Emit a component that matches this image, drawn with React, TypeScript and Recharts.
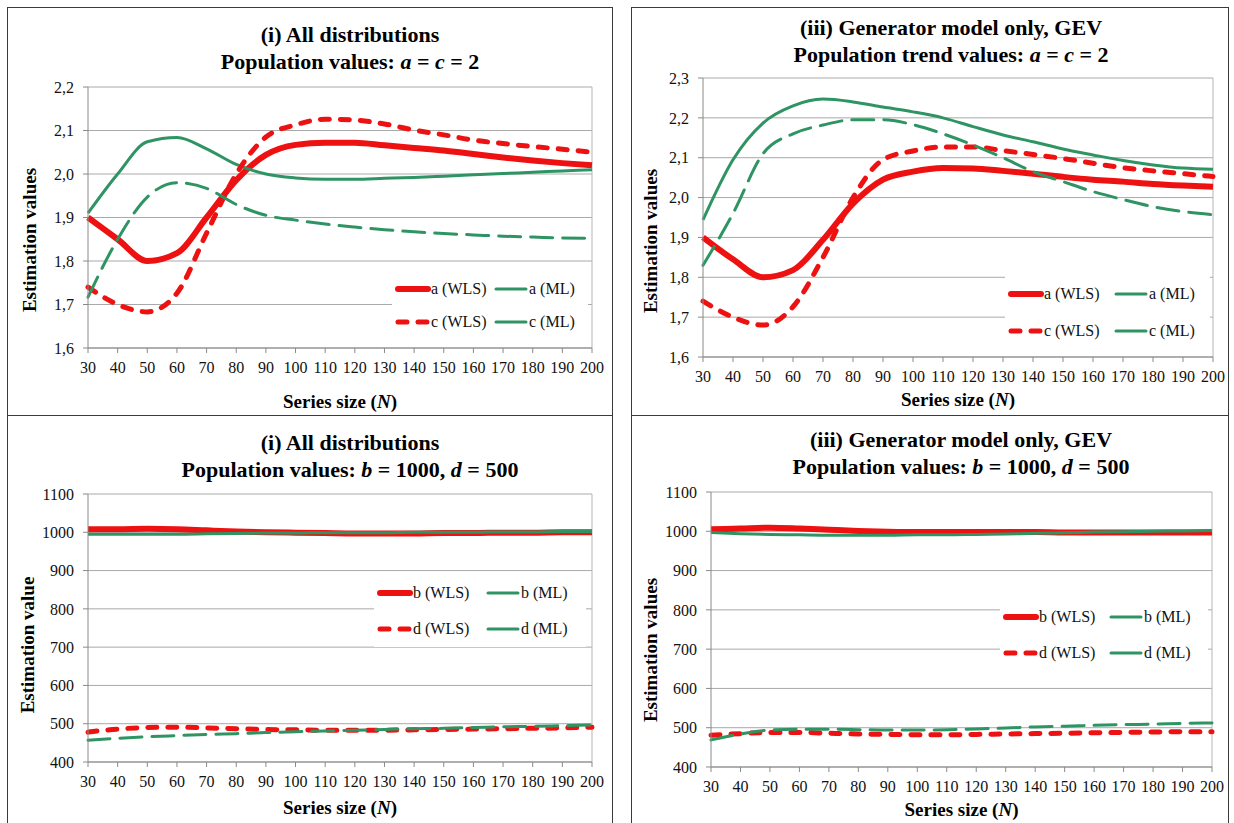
import React from 'react';
import { LineChart, Line, XAxis, YAxis, CartesianGrid, Legend, ReferenceLine } from 'recharts';

// ---------- data ----------
const seriesSize = [30, 40, 50, 60, 70, 80, 90, 100, 110, 120, 130, 140, 150, 160, 170, 180, 190, 200];

// Panel (i) top: a, c
const p1_aWLS = [1.9, 1.85, 1.8, 1.818, 1.9, 1.986, 2.044, 2.067, 2.072, 2.072, 2.066, 2.06, 2.054, 2.046, 2.038, 2.031, 2.025, 2.02];
const p1_aML = [1.91, 2.0, 2.074, 2.084, 2.058, 2.022, 2.0, 1.991, 1.988, 1.988, 1.99, 1.992, 1.995, 1.998, 2.001, 2.004, 2.007, 2.01];
const p1_cWLS = [1.74, 1.7, 1.683, 1.726, 1.864, 2.0, 2.085, 2.113, 2.126, 2.124, 2.115, 2.101, 2.09, 2.078, 2.07, 2.063, 2.057, 2.05];
const p1_cML = [1.717, 1.85, 1.947, 1.98, 1.967, 1.93, 1.905, 1.894, 1.885, 1.878, 1.872, 1.867, 1.863, 1.86, 1.857, 1.855, 1.853, 1.852];

// Panel (iii) top: a, c
const p2_aWLS = [1.9, 1.845, 1.8, 1.818, 1.894, 1.985, 2.045, 2.065, 2.074, 2.073, 2.067, 2.06, 2.052, 2.045, 2.04, 2.034, 2.03, 2.027];
const p2_aML = [1.944, 2.095, 2.187, 2.23, 2.247, 2.24, 2.227, 2.215, 2.2, 2.178, 2.157, 2.14, 2.122, 2.107, 2.093, 2.082, 2.074, 2.071];
const p2_cWLS = [1.74, 1.7, 1.68, 1.726, 1.85, 2.0, 2.095, 2.117, 2.127, 2.127, 2.118, 2.108, 2.098, 2.086, 2.075, 2.067, 2.06, 2.053];
const p2_cML = [1.83, 1.96, 2.11, 2.16, 2.182, 2.195, 2.195, 2.183, 2.16, 2.132, 2.1, 2.065, 2.04, 2.015, 1.995, 1.977, 1.965, 1.957];

// Panel (i) bottom: b, d
const p3_bWLS = [1008, 1008, 1009, 1008, 1005, 1002, 1000, 999, 998, 997, 997, 997, 998, 998, 999, 999, 1000, 1000];
const p3_bML = [995, 995, 995, 995, 996, 997, 998, 998, 999, 999, 999, 1000, 1000, 1000, 1001, 1001, 1002, 1002];
const p3_dWLS = [478, 486, 490, 491, 489, 487, 485, 484, 483, 483, 483, 484, 485, 486, 487, 488, 489, 491];
const p3_dML = [457, 462, 466, 469, 472, 474, 477, 479, 481, 483, 485, 487, 488, 490, 492, 493, 495, 497];

// Panel (iii) bottom: b, d
const p4_bWLS = [1005, 1007, 1009, 1007, 1004, 1001, 999, 998, 998, 998, 998, 998, 997, 997, 997, 997, 997, 997];
const p4_bML = [997, 994, 992, 991, 990, 990, 990, 991, 991, 992, 993, 995, 996, 998, 999, 1000, 1001, 1002];
const p4_dWLS = [481, 485, 488, 488, 486, 484, 483, 482, 482, 483, 484, 485, 486, 487, 488, 489, 490, 490];
const p4_dML = [469, 484, 494, 496, 496, 495, 494, 494, 495, 497, 499, 502, 504, 506, 508, 509, 511, 512];

const ticksAC1 = [1.6, 1.7, 1.8, 1.9, 2.0, 2.1, 2.2];
const ticksAC2 = [1.6, 1.7, 1.8, 1.9, 2.0, 2.1, 2.2, 2.3];
const ticksBD = [400, 500, 600, 700, 800, 900, 1000, 1100];

// ---------- styles ----------
const RED = '#ee1111';
const GREEN = '#2f9463';
const FONT = "'Times New Roman', Times, 'Liberation Serif', Tinos, 'Noto Serif', 'DejaVu Serif', FreeSerif, serif";

type SeriesStyle = { key: string; name: string; color: string; width: number; dash?: string };

const makeSeries = (p: string): SeriesStyle[] => [
  { key: 's1', name: `${p[0]} (WLS)`, color: RED, width: 6 },
  { key: 's2', name: `${p[0]} (ML)`, color: GREEN, width: 3 },
  { key: 's3', name: `${p[1]} (WLS)`, color: RED, width: 5, dash: '9 11' },
  { key: 's4', name: `${p[1]} (ML)`, color: GREEN, width: 3, dash: '22 10' },
];

const buildRows = (s1: number[], s2: number[], s3: number[], s4: number[]) =>
  seriesSize.map((n, i) => ({ n, s1: s1[i], s2: s2[i], s3: s3[i], s4: s4[i] }));

type PanelProps = {
  box: [number, number, number, number];
  plot: [number, number, number, number];
  rows: any[];
  series: SeriesStyle[];
  yDomain: [number, number];
  yTicks: number[];
  comma: boolean;
  title1: React.ReactNode;
  title2: React.ReactNode;
  titleY: [number, number];
  titleX: number;
  yLabel: string;
  yLabelPos: [number, number];
  xLabelY: number;
  legend: { left: number; top: number; width: number; rowH: number; item1W: number };
};

const Y_W = 50;
const X_H = 30;

const textBase: React.CSSProperties = {
  position: 'absolute',
  textAlign: 'center',
  fontFamily: FONT,
  fontWeight: 'bold',
  whiteSpace: 'nowrap',
  color: '#000',
};

const Panel = (p: PanelProps) => {
  const [bl, bt, bw, bh] = p.box;
  const [x0, x1, y0, y1] = p.plot;
  const margin = {
    left: x0 - bl - Y_W,
    right: bl + bw - x1,
    top: y0 - bt,
    bottom: bt + bh - y1 - X_H,
  };
  const lg = p.legend;
  const legendContent = () => (
    <div style={{ background: '#fff', width: lg.width, fontFamily: FONT, fontSize: 16, color: '#111' }}>
      {[0, 1].map((r) => (
        <div key={r} style={{ display: 'flex', height: lg.rowH, alignItems: 'center', paddingLeft: 3 }}>
          {[0, 1].map((c) => {
            const s = p.series[r * 2 + c];
            return (
              <div key={c} style={{ display: 'flex', alignItems: 'center', width: c === 0 ? lg.item1W : undefined }}>
                <svg width={36} height={10} style={{ display: 'block' }}>
                  <line
                    x1={3}
                    x2={33}
                    y1={5}
                    y2={5}
                    stroke={s.color}
                    strokeWidth={s.width}
                    strokeDasharray={s.dash && s.color === RED ? '9 11' : undefined}
                    strokeLinecap="round"
                  />
                </svg>
                <span style={{ whiteSpace: 'nowrap' }}>{s.name}</span>
              </div>
            );
          })}
        </div>
      ))}
    </div>
  );

  return (
    <>
      <div
        style={{
          position: 'absolute',
          left: bl,
          top: bt,
          width: bw,
          height: bh,
          border: '1.5px solid #3a3a3a',
          boxSizing: 'border-box',
        }}
      />
      <div style={{ position: 'absolute', left: bl, top: bt }}>
        <LineChart width={bw} height={bh} data={p.rows} margin={margin} style={{ fontFamily: FONT }}>
          <CartesianGrid vertical={false} stroke="#a9a9a9" strokeWidth={1} />
          <XAxis
            dataKey="n"
            type="number"
            domain={[30, 200]}
            ticks={seriesSize}
            interval={0}
            height={X_H}
            tickSize={5}
            tickMargin={9}
            axisLine={{ stroke: '#8a8a8a' }}
            tickLine={{ stroke: '#8a8a8a' }}
            tick={{ fontFamily: FONT, fontSize: 16, fill: '#111' }}
          />
          <YAxis
            type="number"
            domain={p.yDomain}
            ticks={p.yTicks}
            interval={0}
            width={Y_W}
            tickSize={5}
            tickMargin={9}
            axisLine={{ stroke: '#8a8a8a' }}
            tickLine={{ stroke: '#8a8a8a' }}
            tick={{ fontFamily: FONT, fontSize: 16, fill: '#111' }}
            tickFormatter={(v: number) => (p.comma ? v.toFixed(1).replace('.', ',') : String(v))}
            allowDataOverflow
          />
          <ReferenceLine x={200} stroke="#b5b5b5" />
          <Legend
            layout="horizontal"
            verticalAlign="middle"
            align="center"
            content={legendContent}
            wrapperStyle={{ left: lg.left - bl, top: lg.top - bt, width: lg.width }}
          />
          {p.series.map((s) => (
            <Line
              key={s.key}
              dataKey={s.key}
              name={s.name}
              type="monotone"
              stroke={s.color}
              strokeWidth={s.width}
              strokeDasharray={s.dash}
              strokeLinecap={s.dash ? 'round' : 'butt'}
              dot={false}
              activeDot={false}
              isAnimationActive={false}
            />
          ))}
        </LineChart>
      </div>
      <div style={{ ...textBase, left: p.titleX - 300, width: 600, top: p.titleY[0] - 14, fontSize: 22, lineHeight: '28px' }}>
        {p.title1}
      </div>
      <div style={{ ...textBase, left: p.titleX - 300, width: 600, top: p.titleY[1] - 14, fontSize: 22, lineHeight: '28px' }}>
        {p.title2}
      </div>
      <div style={{ ...textBase, left: (x0 + x1) / 2 - 150, width: 300, top: p.xLabelY - 12, fontSize: 19, lineHeight: '24px' }}>
        Series size (<i>N</i>)
      </div>
      <div
        style={{
          ...textBase,
          left: p.yLabelPos[0] - 150,
          top: p.yLabelPos[1] - 12,
          width: 300,
          fontSize: 19,
          lineHeight: '24px',
          transform: 'rotate(-90deg)',
        }}
      >
        {p.yLabel}
      </div>
    </>
  );
};

export default function App() {
  const acSeries = makeSeries('ac');
  const bdSeries = makeSeries('bd');
  return (
    <div
      style={{
        position: 'absolute',
        left: 0,
        top: 0,
        width: 1234,
        height: 823,
        overflow: 'hidden',
        background: '#fff',
        fontFamily: FONT,
      }}
    >
      <Panel
        box={[7, 7, 606, 409]}
        plot={[88, 592, 87, 348]}
        rows={buildRows(p1_aWLS, p1_aML, p1_cWLS, p1_cML)}
        series={acSeries}
        yDomain={[1.6, 2.2]}
        yTicks={ticksAC1}
        comma
        title1="(i) All distributions"
        title2={<>Population values: <i>a</i> = <i>c</i> = 2</>}
        titleY={[35, 62]}
        titleX={350}
        yLabel="Estimation values"
        yLabelPos={[30, 240]}
        xLabelY={402}
        legend={{ left: 392, top: 272, width: 196, rowH: 33, item1W: 98 }}
      />
      <Panel
        box={[631, 7, 598, 409]}
        plot={[703, 1213, 78, 357]}
        rows={buildRows(p2_aWLS, p2_aML, p2_cWLS, p2_cML)}
        series={acSeries}
        yDomain={[1.6, 2.3]}
        yTicks={ticksAC2}
        comma
        title1="(iii) Generator model only, GEV"
        title2={<>Population trend values: <i>a</i> = <i>c</i> = 2</>}
        titleY={[28, 55]}
        titleX={951}
        yLabel="Estimation values"
        yLabelPos={[651, 241]}
        xLabelY={400}
        legend={{ left: 1005, top: 275, width: 205, rowH: 37, item1W: 105 }}
      />
      <Panel
        box={[7, 415, 606, 430]}
        plot={[88, 592, 494, 762]}
        rows={buildRows(p3_bWLS, p3_bML, p3_dWLS, p3_dML)}
        series={bdSeries}
        yDomain={[400, 1100]}
        yTicks={ticksBD}
        comma={false}
        title1="(i) All distributions"
        title2={<>Population values: <i>b</i> = 1000, <i>d</i> = 500</>}
        titleY={[443, 470]}
        titleX={350}
        yLabel="Estimation value"
        yLabelPos={[28, 645]}
        xLabelY={808}
        legend={{ left: 374, top: 575, width: 212, rowH: 36, item1W: 108 }}
      />
      <Panel
        box={[631, 415, 598, 430]}
        plot={[711, 1212, 492, 767]}
        rows={buildRows(p4_bWLS, p4_bML, p4_dWLS, p4_dML)}
        series={bdSeries}
        yDomain={[400, 1100]}
        yTicks={ticksBD}
        comma={false}
        title1="(iii) Generator model only, GEV"
        title2={<>Population values: <i>b</i> = 1000, <i>d</i> = 500</>}
        titleY={[440, 467]}
        titleX={961}
        yLabel="Estimation values"
        yLabelPos={[651, 650]}
        xLabelY={810}
        legend={{ left: 1000, top: 599, width: 208, rowH: 36, item1W: 105 }}
      />
    </div>
  );
}
